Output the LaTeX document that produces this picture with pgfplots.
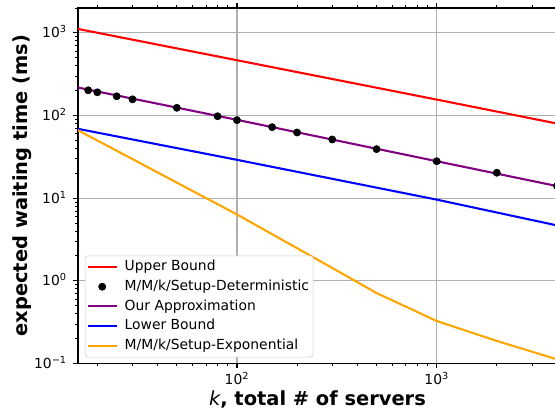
\documentclass[border=0pt]{standalone}
\usepackage{pgfplots}
\pgfplotsset{compat=1.18}
\usepackage{fontspec}
\setmainfont{DejaVu Sans}
\definecolor{mplpurple}{RGB}{128,0,128}
\definecolor{mplorange}{RGB}{255,165,0}
\definecolor{gridgray}{RGB}{176,176,176}
\begin{document}
\begin{tikzpicture}
\begin{axis}[
  scale only axis,
  width=345.2pt, height=256.1pt,
  xmode=log, ymode=log,
  xmin=16, xmax=4000, ymin=0.1, ymax=2000,
  xtick={100,1000},
  xticklabels={10\textsuperscript{2},10\textsuperscript{3}},
  ytick={0.1,1,10,100,1000},
  yticklabels={10\textsuperscript{−1},10\textsuperscript{0},10\textsuperscript{1},10\textsuperscript{2},10\textsuperscript{3}},
  minor xtick={20,30,40,50,60,70,80,90,200,300,400,500,600,700,800,900,2000,3000,4000},
  minor ytick={0.2,0.3,0.4,0.5,0.6,0.7,0.8,0.9,2,3,4,5,6,7,8,9,20,30,40,50,60,70,80,90,200,300,400,500,600,700,800,900,2000},
  tick align=outside,
  major tick length=3.5pt, minor tick length=2pt,
  every tick/.style={black, line width=0.8pt},
  minor tick style={line width=0.6pt},
  axis line style={line width=0.8pt},
  grid=major,
  major grid style={gridgray, line width=0.8pt},
  tick label style={font=\fontsize{10}{12}\selectfont},
  xticklabel style={anchor=base, inner sep=0pt, yshift=-11.4pt},
  yticklabel style={anchor=base east, inner sep=0pt, xshift=-4.4pt, yshift=-3.6pt},
  xlabel={{\itshape k}\textbf{, total \# of servers}},
  ylabel={\textbf{expected waiting time (ms)}},
  label style={font=\fontsize{14}{16}\selectfont},
  xlabel style={at={(axis description cs:0.5,0)}, anchor=base, inner sep=0pt, yshift=-30.5pt},
  ylabel style={at={(axis description cs:-0.1063,0.5)}, anchor=base, inner sep=0pt},
  legend cell align=left,
  legend style={at={(0.0145,0.017)}, anchor=south west,
    font=\fontsize{10}{12}\selectfont,
    draw=black!20, rounded corners=2pt, fill=white,
    nodes={inner ysep=2.4pt, text height=7.3pt, text depth=2.1pt},
    inner xsep=1pt, inner ysep=1pt, row sep=0pt, column sep=3pt},
  legend image code/.code={\draw[mark repeat=2,mark phase=2,#1] plot coordinates {(0pt,0pt) (10.5pt,0pt) (21pt,0pt)};},
]
\addplot[red, line width=1.5pt] coordinates {(16,1117) (100,467) (1000,156) (4000,80)};
\addlegendentry{Upper Bound}
\addplot[only marks, mark=*, mark size=2.6pt, black, mark options={fill=black}] coordinates {
(18,202) (20,191) (25,171) (30,157) (50,124) (80,98) (100,88) (150,72.3) (200,62.3) (300,51.3) (500,39.2) (1000,28) (2000,20.3) (4000,14.0)};
\addlegendentry{M/M/k/Setup-Deterministic}
\addplot[mplpurple, line width=1.5pt] coordinates {(16,218) (100,88.7) (1000,28) (4000,14)};
\addlegendentry{Our Approximation}
\addplot[blue, line width=1.5pt] coordinates {(16,69) (100,29.1) (1000,9.6) (4000,4.68)};
\addlegendentry{Lower Bound}
\addplot[mplorange, line width=1.5pt] coordinates {
(16,66.4) (18,57) (20,49.9) (25,37.5) (30,29.7) (50,15.4) (80,8.45) (100,6.35) (150,3.66) (200,2.48) (300,1.43) (500,0.71) (1000,0.326) (2000,0.187) (4000,0.112)};
\addlegendentry{M/M/k/Setup-Exponential}
\end{axis}
\pgfresetboundingbox
\path[use as bounding box] ([xshift=-56.2pt,yshift=-34.6pt]current axis.south west) rectangle ([xshift=-1.4pt,yshift=5.8pt]current axis.north east);
\end{tikzpicture}
\end{document}
